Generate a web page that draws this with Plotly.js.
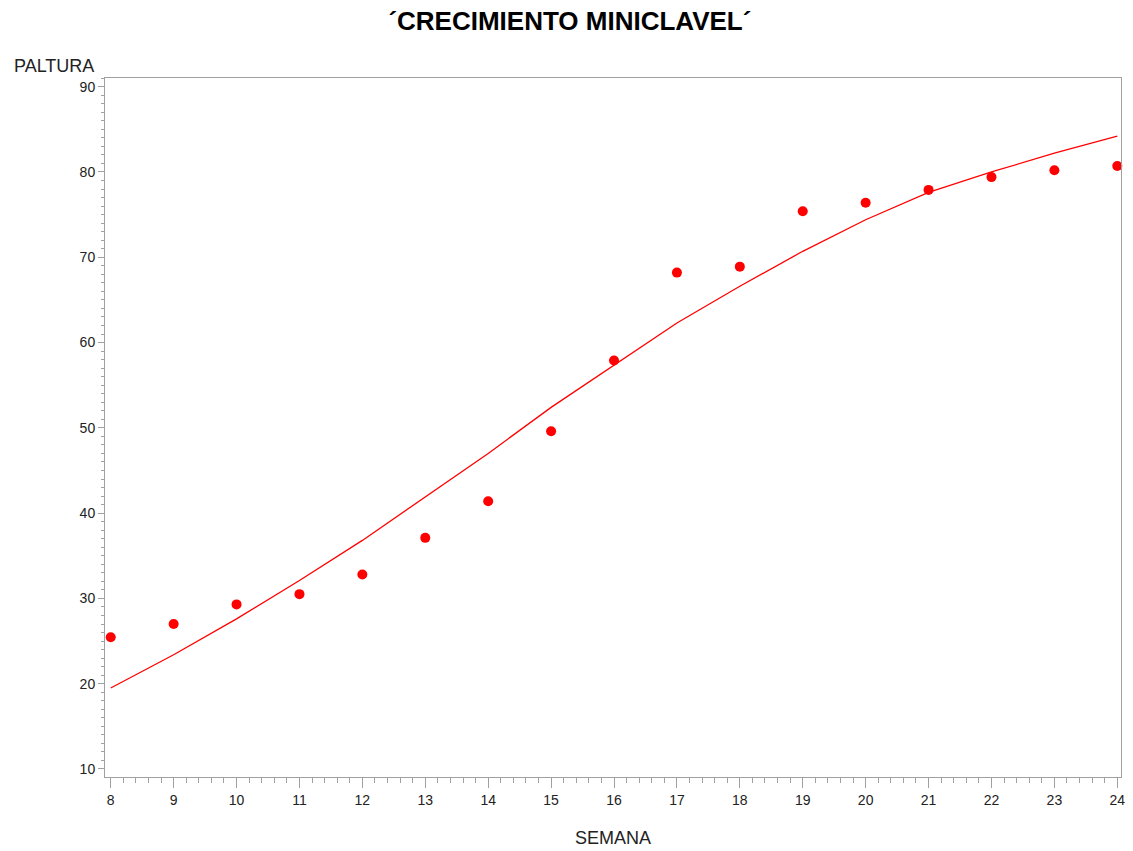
<!DOCTYPE html>
<html>
<head>
<meta charset="utf-8">
<script src="https://cdn.plot.ly/plotly-3.0.1.min.js"></script>
<style>html,body{margin:0;padding:0;background:#fff;}#chart{width:1133px;height:851px;}</style>
</head>
<body>
<div id="chart"></div>
<script>
const semana = [8, 9, 10, 11, 12, 13, 14, 15, 16, 17, 18, 19, 20, 21, 22, 23, 24];
const paltura = [25.45, 27.0, 29.3, 30.5, 32.8, 37.1, 41.4, 49.6, 57.9, 68.2, 68.9, 75.4, 76.4, 77.9, 79.4, 80.2, 80.7];
const ajuste = [19.5, 23.4, 27.6, 32.1, 36.8, 41.9, 47.0, 52.4, 57.4, 62.3, 66.6, 70.7, 74.4, 77.6, 80.0, 82.2, 84.2];
const xTicks = [8, 9, 10, 11, 12, 13, 14, 15, 16, 17, 18, 19, 20, 21, 22, 23, 24];
const yTicks = [10, 20, 30, 40, 50, 60, 70, 80, 90];

const axisColor = '#a0a0a0';
const tickFont = {family: 'Liberation Sans, Arial, sans-serif', size: 14, color: '#222'};

const traces = [
  {x: semana, y: ajuste, type: 'scatter', mode: 'lines',
   line: {color: '#ff0000', width: 1.3}, hoverinfo: 'skip', showlegend: false},
  {x: semana, y: paltura, type: 'scatter', mode: 'markers',
   marker: {color: '#ff0000', size: 10, symbol: 'circle'}, showlegend: false, cliponaxis: false}
];

const layout = {
  width: 1133, height: 851,
  margin: {l: 105, r: 12, t: 78, b: 74},
  paper_bgcolor: '#fff', plot_bgcolor: '#fff',
  showlegend: false,
  title: {text: '´CRECIMIENTO MINICLAVEL´', x: 0.503, xref: 'container', xanchor: 'center', y: 0.975, yanchor: 'middle',
          font: {family: 'Liberation Sans, Arial, sans-serif', size: 26, color: '#000', weight: 'bold'}},
  xaxis: {
    range: [7.909, 24.059], tickmode: 'array', tickvals: xTicks, ticktext: xTicks.map(String),
    ticks: 'outside', ticklen: 10, tickwidth: 1, tickcolor: axisColor,
    showline: true, linecolor: axisColor, linewidth: 1, mirror: true,
    showgrid: false, zeroline: false, tickfont: tickFont,
    minor: {dtick: 0.2, tick0: 8, ticks: 'outside', ticklen: 5, tickcolor: axisColor, tickwidth: 1, showgrid: false},
    title: {text: 'SEMANA', standoff: 24, font: {family: 'Liberation Sans, Arial, sans-serif', size: 18, color: '#222'}}
  },
  yaxis: {
    range: [9.06, 91.02], tickmode: 'array', tickvals: yTicks, ticktext: yTicks.map(String),
    ticks: 'outside', ticklen: 6, tickwidth: 1, tickcolor: axisColor,
    showline: true, linecolor: axisColor, linewidth: 1, mirror: true,
    showgrid: false, zeroline: false, tickfont: tickFont,
    minor: {dtick: 1, tick0: 10, ticks: 'outside', ticklen: 3, tickcolor: axisColor, tickwidth: 1, showgrid: false}
  },
  annotations: [
    {text: 'PALTURA', xref: 'paper', yref: 'paper', x: 0, y: 1, xanchor: 'right', yanchor: 'bottom',
     xshift: -9, yshift: 0, showarrow: false,
     font: {family: 'Liberation Sans, Arial, sans-serif', size: 18, color: '#222'}}
  ]
};

Plotly.newPlot('chart', traces, layout, {displayModeBar: false, staticPlot: true});
</script>
</body>
</html>
